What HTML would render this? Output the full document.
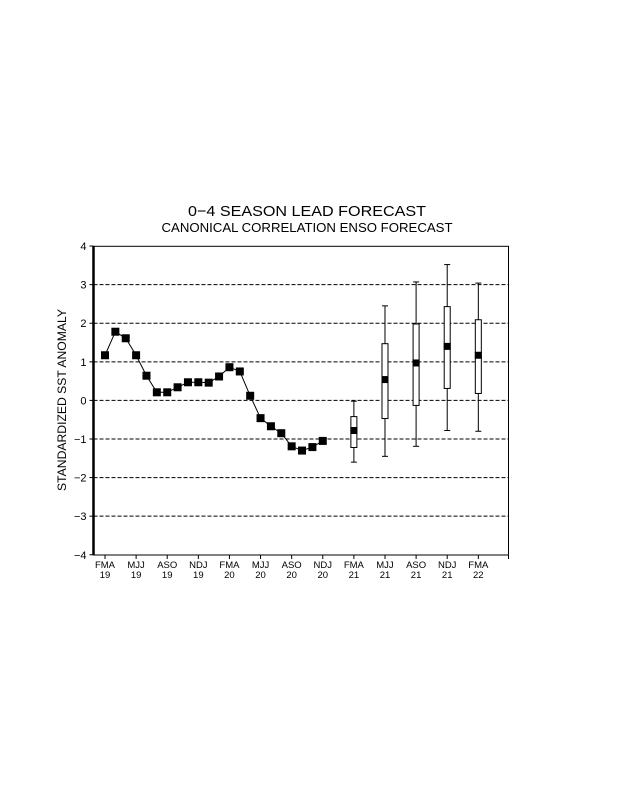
<!DOCTYPE html>
<html><head><meta charset="utf-8"><style>
body{margin:0;background:#fff;}
svg{display:block;font-family:"Liberation Sans",sans-serif;}
</style></head><body>
<svg id="chart" width="618" height="800" viewBox="0 0 618 800">
<text x="307" y="216" text-anchor="middle" font-size="15" textLength="238" lengthAdjust="spacingAndGlyphs">0−4 SEASON LEAD FORECAST</text>
<text x="307" y="232" text-anchor="middle" font-size="12.5" textLength="291" lengthAdjust="spacingAndGlyphs">CANONICAL CORRELATION ENSO FORECAST</text>
<text transform="translate(66,400) rotate(-90)" text-anchor="middle" font-size="12" textLength="182" lengthAdjust="spacingAndGlyphs">STANDARDIZED SST ANOMALY</text>
<g id="grid"></g><g id="axes"></g><g id="marks"></g>
</svg>
<script>
const yTicks=[4,3,2,1,0,-1,-2,-3,-4];
const xLabels=["FMA","MJJ","ASO","NDJ","FMA","MJJ","ASO","NDJ","FMA","MJJ","ASO","NDJ","FMA"];
const xYears=["19","19","19","19","20","20","20","20","21","21","21","21","22"];
const obsValues=[1.17,1.78,1.61,1.17,0.64,0.21,0.21,0.34,0.47,0.47,0.46,0.62,0.86,0.75,0.12,-0.46,-0.67,-0.85,-1.19,-1.30,-1.21,-1.05];
const fcIndex=[24,27,30,33,36];
const fcMedian=[-0.78,0.54,0.97,1.40,1.17];
const fcBoxLow=[-1.22,-0.47,-0.13,0.31,0.18];
const fcBoxHigh=[-0.42,1.47,1.98,2.43,2.09];
const fcWhiskLow=[-1.6,-1.45,-1.19,-0.78,-0.80];
const fcWhiskHigh=[-0.02,2.45,3.07,3.52,3.04];

const NS="http://www.w3.org/2000/svg";
const X0=93.5,X1=508.5,Y0=246.3,Y1=555;
function yS(v){return 400.4-v*(Y1-Y0)/8;}
function xS(i){return 105+i*10.37;}
function mk(tag,attrs,parent){const e=document.createElementNS(NS,tag);for(const k in attrs)e.setAttribute(k,attrs[k]);parent.appendChild(e);return e;}
const grid=document.getElementById('grid'),axes=document.getElementById('axes'),marks=document.getElementById('marks');

yTicks.forEach(v=>{
  const y=yS(v);
  if(v>-4&&v<4){const l=mk('line',{x1:X0,x2:X1,y1:y,y2:y,stroke:'#000','stroke-width':1,'stroke-dasharray':'4,2'},grid);
  
  }
  mk('line',{x1:X0-4,x2:X0,y1:y,y2:y,stroke:'#000'},axes);
  const t=mk('text',{x:X0-7,y:y+4,'text-anchor':'end','font-size':11},axes);
  t.textContent=v<0?'−'+(-v):String(v);
  
  
});
const frame=mk('rect',{x:X0,y:Y0,width:X1-X0,height:Y1-Y0,fill:'none',stroke:'#000','stroke-width':1},axes);


mk('line',{x1:X0,x2:X0,y1:Y0,y2:Y1,stroke:'#000','stroke-width':2.5},axes);
xLabels.forEach((lab,k)=>{
  const x=xS(k*3);
  mk('line',{x1:x,x2:x,y1:Y1,y2:Y1+4,stroke:'#000'},axes);
  const t=mk('text',{x:x,y:Y1+13,'text-anchor':'middle','font-size':9.5},axes);
  t.textContent=lab;
  
  
  const t2=mk('text',{x:x,y:Y1+23,'text-anchor':'middle','font-size':9.5},axes);
  t2.textContent=xYears[k];
  
  
});
mk('line',{x1:X1,x2:X1,y1:Y1,y2:Y1+4,stroke:'#000'},axes);

const pts=obsValues.map((v,i)=>xS(i)+','+yS(v)).join(' ');
const pl=mk('polyline',{points:pts,fill:'none',stroke:'#000','stroke-width':1},marks);


obsValues.forEach((v,i)=>{
  const r=mk('rect',{x:xS(i)-4,y:yS(v)-4,width:8,height:8,fill:'#000'},marks);
  
  
});
fcIndex.forEach((idx,k)=>{
  const x=xS(idx);
  const g=mk('g',{},marks);
  
  
  mk('line',{x1:x,x2:x,y1:yS(fcWhiskHigh[k]),y2:yS(fcWhiskLow[k]),stroke:'#000','stroke-width':1},g);
  mk('line',{x1:x-3,x2:x+3,y1:yS(fcWhiskHigh[k]),y2:yS(fcWhiskHigh[k]),stroke:'#000'},g);
  mk('line',{x1:x-3,x2:x+3,y1:yS(fcWhiskLow[k]),y2:yS(fcWhiskLow[k]),stroke:'#000'},g);
  mk('rect',{x:x-3,y:yS(fcBoxHigh[k]),width:6,height:yS(fcBoxLow[k])-yS(fcBoxHigh[k]),fill:'#fff',stroke:'#000','stroke-width':1},g);
  mk('rect',{x:x-3.5,y:yS(fcMedian[k])-3.5,width:7,height:7,fill:'#000'},g);
});
</script>
</body></html>
